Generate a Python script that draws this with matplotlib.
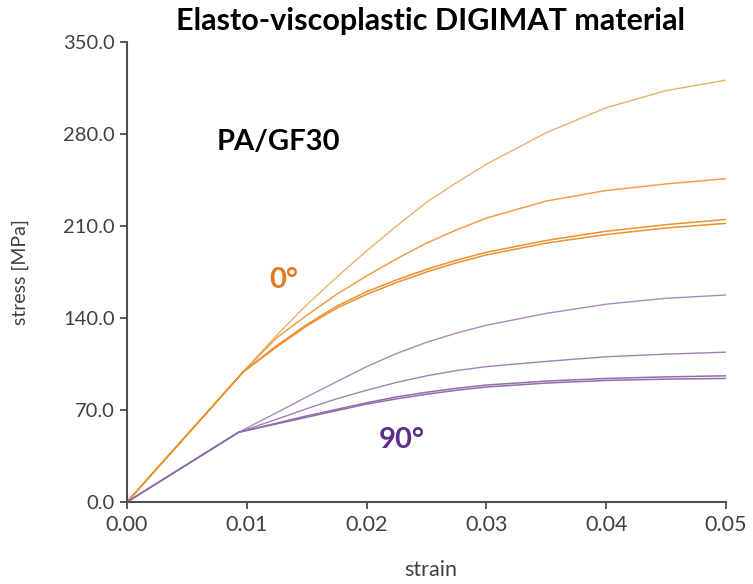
import matplotlib
matplotlib.use("Agg")
import matplotlib.pyplot as plt

plt.rcParams['font.family'] = ['Lato', 'DejaVu Sans']

# strain grids (elastic part + plastic part)
strain_0 = [0, 0.0097, 0.0125, 0.015, 0.0175, 0.02, 0.0225, 0.025, 0.0275,
            0.03, 0.035, 0.04, 0.045, 0.05]
strain_90 = [0, 0.0093, 0.0125, 0.015, 0.0175, 0.02, 0.0225, 0.025, 0.0275,
             0.03, 0.035, 0.04, 0.045, 0.05]

# 0 deg curves [MPa]
s0_a = [0, 99, 127, 150, 171, 191, 210, 228, 243, 257, 281, 300, 313, 321]
s0_b = [0, 99, 125, 142, 158, 172, 185, 197, 207, 216, 229, 237, 242, 246]
s0_c = [0, 99, 119, 135, 149, 160, 169, 177, 184, 190, 199, 206, 211, 215]
s0_d = [0, 99, 118, 134, 147.5, 158, 167, 175, 182, 188, 197, 203.5, 208.5, 212]

# 90 deg curves [MPa]
s90_a = [0, 53, 68, 80, 91.5, 103, 113, 121.5, 128.5, 134.5, 143.5, 150.5, 155, 157.5]
s90_b = [0, 53, 63, 71, 78.5, 85, 91, 96, 100, 103, 107, 110.5, 112.5, 114]
s90_c = [0, 53, 60, 65.5, 70.5, 75.5, 80, 83.5, 86.5, 89, 92, 94, 95.2, 96]
s90_d = [0, 53, 59.5, 64.5, 69.5, 74.5, 78.5, 82, 85, 87.5, 90.5, 92.5, 93.5, 94]

x_ticks = [0.0, 0.01, 0.02, 0.03, 0.04, 0.05]
y_ticks = [0, 70, 140, 210, 280, 350]

fig = plt.figure(figsize=(7.53, 5.84), dpi=100)
ax = fig.add_axes([0.1687, 0.1404, 0.7954, 0.7877])

ax.plot(strain_0, s0_a, color='#EBB06C', lw=1.0)
ax.plot(strain_0, s0_b, color='#EFA04A', lw=1.1)
ax.plot(strain_0, s0_c, color='#EC9030', lw=1.1)
ax.plot(strain_0, s0_d, color='#EC9030', lw=1.1)

ax.plot(strain_90, s90_a, color='#A58CBA', lw=1.0)
ax.plot(strain_90, s90_b, color='#9E84B4', lw=1.0)
ax.plot(strain_90, s90_c, color='#8F6EAA', lw=1.1)
ax.plot(strain_90, s90_d, color='#8F6EAA', lw=1.1)

ax.set_xlim(0, 0.05)
ax.set_ylim(0, 350)
ax.set_xticks(x_ticks)
ax.set_yticks(y_ticks)
ax.set_xticklabels(['%.2f' % v for v in x_ticks])
ax.set_yticklabels(['%.1f' % v for v in y_ticks])
ax.tick_params(colors='#404040', length=5, width=1.2, pad=4)
ax.tick_params(axis='x', labelsize=15.5)
ax.tick_params(axis='y', labelsize=14.5)

for s in ['top', 'right']:
    ax.spines[s].set_visible(False)
for s in ['left', 'bottom']:
    ax.spines[s].set_color('#505050')
    ax.spines[s].set_linewidth(1.5)

ax.text(0.0126, 274, 'PA/GF30', fontsize=21, fontweight='bold', color='black',
        ha='center', va='center')
ax.text(0.0131, 169, '0°', fontsize=21, fontweight='bold', color='#E07A1F',
        ha='center', va='center')
ax.text(0.0229, 47, '90°', fontsize=21, fontweight='bold', color='#5B2E8C',
        ha='center', va='center')

fig.text(0.572, 0.964, 'Elasto-viscoplastic DIGIMAT material', fontsize=22,
         fontweight='bold', ha='center', va='center')
fig.text(0.572, 0.024, 'strain', fontsize=15.5, color='#404040', ha='center', va='center')
fig.text(0.027, 0.534, 'stress [MPa]', fontsize=14, color='#404040', rotation=90,
         ha='center', va='center')

fig.savefig('out.png', dpi=100)
